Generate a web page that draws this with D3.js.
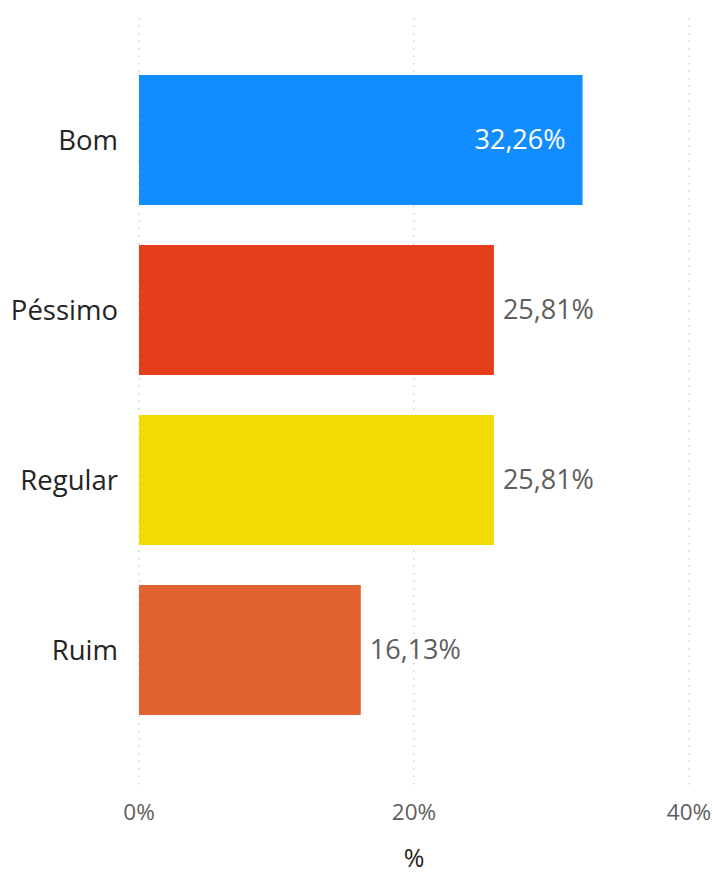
<!DOCTYPE html>
<html><head><meta charset="utf-8">
<script src="https://cdn.jsdelivr.net/npm/d3@7"></script>
<style>body{margin:0;background:#fff;} text{font-family:"Open Sans",sans-serif;}</style>
</head><body>
<svg id="chart" width="715" height="881"></svg>
<script>
const categories = ["Bom","Péssimo","Regular","Ruim"];
const values = [32.26, 25.81, 25.81, 16.13];
const valueLabels = ["32,26%","25,81%","25,81%","16,13%"];
const colors = ["#118DFF","#E43F1A","#F2DA05","#E0632F"];
const tickValues = [0, 20, 40];
const tickLabels = ["0%","20%","40%"];
const axisTitle = "%";

const svg = d3.select("#chart");
const x = d3.scaleLinear().domain([0,40]).range([139,689]);
const y = d3.scaleBand().domain(categories).range([20,770]).paddingInner(40/170).paddingOuter(0.3235);

// gridlines
svg.append("g").selectAll("line").data(tickValues).join("line")
  .attr("x1",d=>x(d)).attr("x2",d=>x(d)).attr("y1",18).attr("y2",790)
  .attr("stroke","#c8c8c8").attr("stroke-width",1.2).attr("stroke-dasharray","1.5,6");

// bars
svg.append("g").selectAll("rect").data(categories).join("rect")
  .attr("x",x(0)).attr("y",d=>y(d)).attr("width",(d,i)=>x(values[i])-x(0))
  .attr("height",y.bandwidth()).attr("fill",(d,i)=>colors[i]);

// category labels
svg.append("g").selectAll("text").data(categories).join("text")
  .attr("x",118).attr("y",d=>y(d)+y.bandwidth()/2).attr("dy","0.35em")
  .attr("text-anchor","end").attr("font-size",27.5).attr("fill","#252423")
  .text(d=>d);

// value labels
svg.append("g").selectAll("text").data(categories).join("text")
  .each(function(d,i){
    const inside = i===0;
    const xe = x(values[i]);
    d3.select(this).attr("x",inside ? xe-17 : xe+9).attr("y",y(d)+y.bandwidth()/2).attr("dy","0.35em")
     .attr("text-anchor",inside?"end":"start")
     .attr("font-size",27).attr("fill",inside?"#ffffff":"#605E5C")
     .text(valueLabels[i]);
  });

// tick labels
svg.append("g").selectAll("text").data(tickValues).join("text")
  .attr("x",d=>x(d)).attr("y",812).attr("dy","0.35em").attr("text-anchor","middle")
  .attr("font-size",22.5).attr("fill","#605E5C")
  .text((d,i)=>tickLabels[i]);

svg.append("text").attr("x",x(20)).attr("y",858).attr("dy","0.35em").attr("text-anchor","middle")
  .attr("font-size",25).attr("fill","#252423")
  .text(axisTitle);
</script>
</body></html>
